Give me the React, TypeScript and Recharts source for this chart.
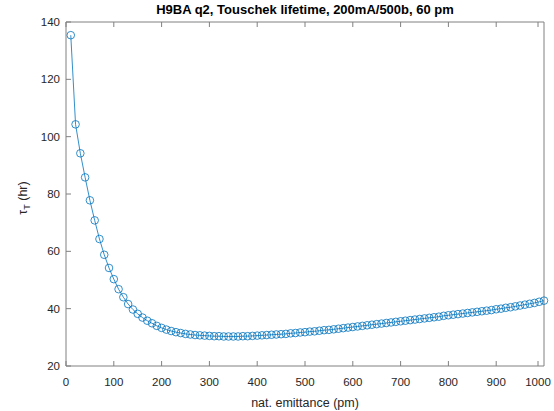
import { Line, LineChart, XAxis, YAxis } from 'recharts';

// nat. emittance (pm) vs Touschek lifetime (hr)
const emittance = [
  10, 20, 30, 40, 50, 60, 70, 80, 90, 100,
  110, 120, 130, 140, 150, 160, 170, 180, 190, 200,
  210, 220, 230, 240, 250, 260, 270, 280, 290, 300,
  310, 320, 330, 340, 350, 360, 370, 380, 390, 400,
  410, 420, 430, 440, 450, 460, 470, 480, 490, 500,
  510, 520, 530, 540, 550, 560, 570, 580, 590, 600,
  610, 620, 630, 640, 650, 660, 670, 680, 690, 700,
  710, 720, 730, 740, 750, 760, 770, 780, 790, 800,
  810, 820, 830, 840, 850, 860, 870, 880, 890, 900,
  910, 920, 930, 940, 950, 960, 970, 980, 990, 1000,
];
const lifetime = [
  135.4, 104.3, 94.2, 85.8, 77.8, 70.8, 64.3, 58.8, 54.2, 50.3,
  46.8, 44.0, 41.6, 39.7, 38.2, 36.9, 35.8, 34.9, 34.0, 33.3,
  32.7, 32.2, 31.8, 31.5, 31.2, 31.0, 30.8, 30.7, 30.6, 30.5,
  30.4, 30.4, 30.3, 30.3, 30.3, 30.3, 30.4, 30.4, 30.5, 30.6,
  30.7, 30.8, 30.9, 31.0, 31.1, 31.2, 31.4, 31.5, 31.7, 31.8,
  32.0, 32.1, 32.3, 32.5, 32.6, 32.8, 33.0, 33.2, 33.4, 33.6,
  33.8, 34.0, 34.2, 34.4, 34.6, 34.8, 35.0, 35.2, 35.4, 35.6,
  35.8, 36.0, 36.2, 36.4, 36.6, 36.8, 37.0, 37.2, 37.5, 37.7,
  37.9, 38.1, 38.3, 38.5, 38.7, 38.9, 39.1, 39.3, 39.5, 39.8,
  40.0, 40.3, 40.5, 40.8, 41.1, 41.4, 41.7, 42.0, 42.4, 42.8,
];
const xTicks = [0, 100, 200, 300, 400, 500, 600, 700, 800, 900, 1000];
const yTicks = [20, 40, 60, 80, 100, 120, 140];

const data = emittance.map((e, i) => ({ e, tau: lifetime[i] }));

const FONT = '"Liberation Sans", Arial, sans-serif';
const AX = '#808080';
const TXT = '#262626';
const BLUE = '#0072BD';

// MATLAB-style ticks: marks point inward
const bottomTick = (p: any) => (
  <g>
    <line x1={p.x} x2={p.x} y1={p.y} y2={p.y - 5} stroke={AX} />
    <text x={p.x} y={p.y + 20} textAnchor="middle" fontSize={11.5} fill={TXT} fontFamily={FONT}>
      {p.payload.value}
    </text>
  </g>
);
const topTick = (p: any) => (
  <line x1={p.x} x2={p.x} y1={p.y} y2={p.y + 5} stroke={AX} />
);
const leftTick = (p: any) => (
  <g>
    <line x1={p.x} x2={p.x + 5} y1={p.y} y2={p.y} stroke={AX} />
    <text x={p.x - 6} y={p.y + 4} textAnchor="end" fontSize={11.5} fill={TXT} fontFamily={FONT}>
      {p.payload.value}
    </text>
  </g>
);
const rightTick = (p: any) => (
  <line x1={p.x} x2={p.x - 5} y1={p.y} y2={p.y} stroke={AX} />
);

const xLabel = (p: any) => {
  const vb = p.viewBox;
  return (
    <text x={vb.x + vb.width / 2} y={vb.y + 41} textAnchor="middle" fontSize={12.5} fill={TXT} fontFamily={FONT}>
      nat. emittance (pm)
    </text>
  );
};
const yLabel = (p: any) => {
  const vb = p.viewBox;
  const cx = 27;
  const cy = vb.y + vb.height / 2 + 4;
  return (
    <text x={cx} y={cy} transform={`rotate(-90, ${cx}, ${cy})`} textAnchor="middle" fontSize={12.5} fill={TXT} fontFamily={FONT}>
      <tspan>τ</tspan>
      <tspan dy={3} fontSize={9}>T</tspan>
      <tspan dy={-3}> (hr)</tspan>
    </text>
  );
};

export default function App() {
  return (
    <div style={{ position: 'absolute', left: 0, top: 0, width: 554, height: 411, background: '#fff' }}>
      <div
        style={{
          position: 'absolute',
          left: 66,
          width: 478,
          top: 2,
          textAlign: 'center',
          fontFamily: FONT,
          fontWeight: 'bold',
          fontSize: 13,
          color: '#000',
        }}
      >
        H9BA q2, Touschek lifetime, 200mA/500b, 60 pm
      </div>
      <LineChart width={554} height={411} data={data} margin={{ top: 21, right: 9, left: 0, bottom: 0 }}>
        <XAxis
          dataKey="e"
          type="number"
          domain={[0, 1000]}
          ticks={xTicks}
          height={45}
          tickSize={0}
          tickMargin={0}
          tick={bottomTick}
          tickLine={false}
          axisLine={{ stroke: AX }}
          label={xLabel}
        />
        <XAxis
          xAxisId="top"
          orientation="top"
          dataKey="e"
          type="number"
          domain={[0, 1000]}
          ticks={xTicks}
          height={1}
          tickSize={0}
          tickMargin={0}
          tick={topTick}
          tickLine={false}
          axisLine={{ stroke: AX }}
        />
        <YAxis
          type="number"
          domain={[20, 140]}
          ticks={yTicks}
          width={66}
          tickSize={0}
          tickMargin={0}
          tick={leftTick}
          tickLine={false}
          axisLine={{ stroke: AX }}
          label={yLabel}
        />
        <YAxis
          yAxisId="right"
          orientation="right"
          type="number"
          domain={[20, 140]}
          ticks={yTicks}
          width={1}
          tickSize={0}
          tickMargin={0}
          tick={rightTick}
          tickLine={false}
          axisLine={{ stroke: AX }}
        />
        <Line
          dataKey="tau"
          stroke={BLUE}
          strokeWidth={0.8}
          dot={{ r: 3.8, stroke: BLUE, strokeWidth: 0.8, fill: 'none' }}
          isAnimationActive={false}
        />
      </LineChart>
    </div>
  );
}
